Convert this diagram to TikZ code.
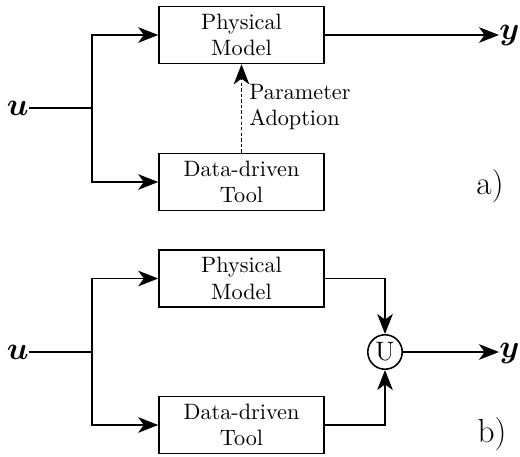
\documentclass[tikz,border=0pt]{standalone}
\usepackage{amsmath,bm}
\usetikzlibrary{arrows.meta}
\begin{document}
\begin{tikzpicture}[x=0.45pt,y=-0.45pt,
  blk/.style={draw, line width=0.7pt, minimum width=74.25pt, minimum height=25.65pt, align=center, inner sep=0pt},
  wire/.style={line width=0.8pt},
  conn/.style={line width=0.8pt, -{Stealth[length=9pt,width=7pt,inset=2.5pt]}},
  sig/.style={font=\Large, inner sep=0pt},
  tag/.style={font=\fontsize{15}{18}\selectfont, inner sep=0pt}
  ]
\useasboundingbox (0,0) rectangle (520,456);
% (a)
\node[blk] (pm1) at (241.5,35) {Physical\\Model};
\node[blk] (dt1) at (241.5,182) {Data-driven\\Tool};
\node[sig, anchor=east] (u1) at (29,108) {$\bm{u}$};
\coordinate (b1) at (92,108);
\draw[wire] (u1.east) -- (b1);
\draw[conn] (b1) |- (pm1.west);
\draw[conn] (b1) |- (dt1.west);
\node[sig, anchor=west] (y1) at (499,36) {$\bm{y}$};
\draw[conn] (pm1.east) -- (pm1.east -| y1.west);
\draw[conn, dash pattern=on 1.5pt off 1pt] (dt1.north) -- (pm1.south);
\node[anchor=west, align=left, inner sep=0pt] (pa) at (249,107) {Parameter\\Adoption};
\node[tag] (la) at (490,186) {a)};
% (b)
\node[blk] (pm2) at (241.5,278.5) {Physical\\Model};
\node[blk] (dt2) at (241.5,425) {Data-driven\\Tool};
\node[sig, anchor=east] (u2) at (29,352) {$\bm{u}$};
\coordinate (b2) at (92,352);
\draw[wire] (u2.east) -- (b2);
\draw[conn] (b2) |- (pm2.west);
\draw[conn] (b2) |- (dt2.west);
\node[draw, circle, line width=0.7pt, minimum size=15.5pt, inner sep=0pt, font=\large] (un) at (385,352) {U};
\draw[conn] (pm2.east) -| (un.north);
\draw[conn] (dt2.east) -| (un.south);
\node[sig, anchor=west] (y2) at (499,353) {$\bm{y}$};
\draw[conn] (un.east) -- (un.east -| y2.west);
\node[tag] (lb) at (492,434) {b)};
\end{tikzpicture}
\end{document}
